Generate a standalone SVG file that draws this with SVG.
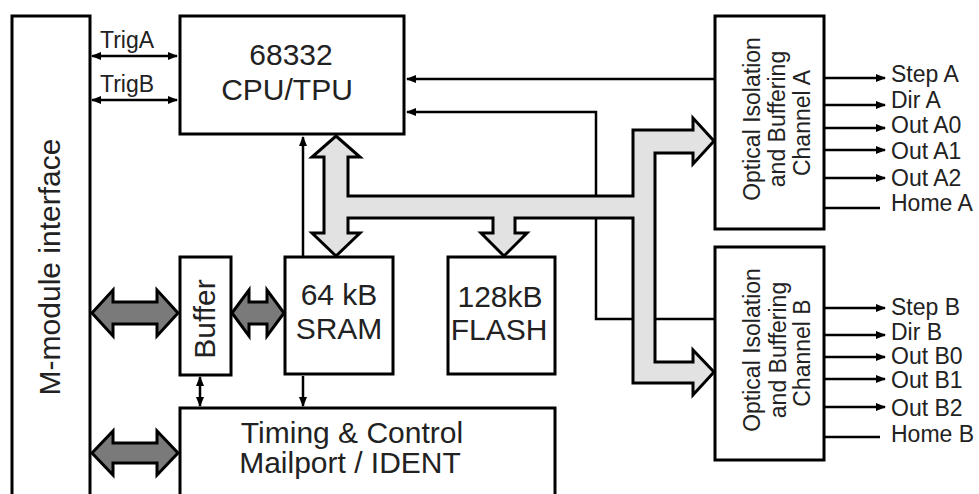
<svg xmlns="http://www.w3.org/2000/svg" width="979" height="494" viewBox="0 0 979 494">
<style>
  .box { fill: #ffffff; stroke: #000000; stroke-width: 3; }
  .lbl { font-family: "Liberation Sans", Arial, sans-serif; fill: #222222; }
  .big { font-size: 30px; }
  .mid { font-size: 23px; }
  .sig { font-size: 23px; }
  .ln { fill: none; stroke: #000000; stroke-width: 2.5; }
  .bus { fill: #e2e2e2; stroke: #000000; stroke-width: 3; stroke-linejoin: miter; }
  .dbus { fill: #7a7a7a; stroke: #000000; stroke-width: 3; stroke-linejoin: miter; }
</style>
<defs>
  <marker id="ah" markerUnits="userSpaceOnUse" markerWidth="10" markerHeight="10" viewBox="0 0 10 10" refX="9" refY="5" orient="auto-start-reverse">
    <path d="M0,1 L10,5 L0,9 Z" fill="#000000"/>
  </marker>
</defs>
<rect x="0" y="0" width="979" height="494" fill="#ffffff"/>

<g id="connectors">
  <line class="ln" x1="92" y1="56" x2="177" y2="56" marker-start="url(#ah)" marker-end="url(#ah)"/>
  <line class="ln" x1="92" y1="100" x2="177" y2="100" marker-start="url(#ah)" marker-end="url(#ah)"/>
  <line class="ln" x1="714" y1="79" x2="407" y2="79" marker-end="url(#ah)"/>
  <polyline class="ln" points="714,319 596,319 596,112 407,112" marker-end="url(#ah)"/>
  <line class="ln" x1="303" y1="256" x2="303" y2="137" marker-end="url(#ah)"/>
  <line class="ln" x1="303" y1="376" x2="303" y2="406" marker-end="url(#ah)"/>
  <line class="ln" x1="200" y1="377" x2="200" y2="406" marker-start="url(#ah)" marker-end="url(#ah)"/>
  <line class="ln" x1="825" y1="78" x2="885" y2="78" marker-end="url(#ah)"/>
  <line class="ln" x1="825" y1="105" x2="885" y2="105" marker-end="url(#ah)"/>
  <line class="ln" x1="825" y1="128" x2="885" y2="128" marker-end="url(#ah)"/>
  <line class="ln" x1="825" y1="150" x2="885" y2="150" marker-end="url(#ah)"/>
  <line class="ln" x1="825" y1="178" x2="885" y2="178" marker-end="url(#ah)"/>
  <line class="ln" x1="825" y1="208" x2="880" y2="208"/>
  <line class="ln" x1="825" y1="308" x2="885" y2="308" marker-end="url(#ah)"/>
  <line class="ln" x1="825" y1="335" x2="885" y2="335" marker-end="url(#ah)"/>
  <line class="ln" x1="825" y1="357" x2="885" y2="357" marker-end="url(#ah)"/>
  <line class="ln" x1="825" y1="379" x2="885" y2="379" marker-end="url(#ah)"/>
  <line class="ln" x1="825" y1="407" x2="885" y2="407" marker-end="url(#ah)"/>
  <line class="ln" x1="825" y1="437" x2="880" y2="437"/>
  <path class="bus" d="M336,136 L360,157 L348,157 L348,196 L633,196 L633,130 L693,130 L693,118 L714,141 L693,164 L693,153 L655,153 L655,362 L693,362 L693,350 L714,372 L693,395 L693,383 L633,383 L633,218 L515,218 L515,233 L527,233 L504,256 L481,233 L493,233 L493,218 L348,218 L348,233 L360,233 L336,256 L312,233 L324,233 L324,157 L312,157 Z"/>
  <path class="dbus" d="M92,313 L113,290 L113,302 L157,302 L157,290 L178,313 L157,336 L157,324 L113,324 L113,336 Z"/>
  <path class="dbus" d="M232,313 L249,290 L249,302 L267,302 L267,290 L284,313 L267,336 L267,324 L249,324 L249,336 Z"/>
  <path class="dbus" d="M92,453 L113,431 L113,443 L157,443 L157,431 L178,453 L157,475 L157,463 L113,463 L113,475 Z"/>
</g>

<g id="mmodule">
  <rect class="box" x="12" y="16" width="78" height="500"/>
  <text class="lbl big" transform="translate(60,267) rotate(-90)" text-anchor="middle">M-module interface</text>
</g>
<g id="trig-labels">
  <text class="lbl sig" x="100" y="48">TrigA</text>
  <text class="lbl sig" x="100" y="92">TrigB</text>
</g>
<g id="cpu">
  <rect class="box" x="180" y="16" width="224" height="118"/>
  <text class="lbl big" x="291" y="65" text-anchor="middle">68332</text>
  <text class="lbl big" x="287" y="100" text-anchor="middle">CPU/TPU</text>
</g>
<g id="buffer">
  <rect class="box" x="180" y="257" width="51" height="118"/>
  <text class="lbl big" transform="translate(215,319) rotate(-90)" text-anchor="middle">Buffer</text>
</g>
<g id="sram">
  <rect class="box" x="285" y="257" width="108" height="117"/>
  <text class="lbl big" x="339" y="305" text-anchor="middle">64 kB</text>
  <text class="lbl big" x="339" y="339" text-anchor="middle">SRAM</text>
</g>
<g id="flash">
  <rect class="box" x="448" y="257" width="107" height="117"/>
  <text class="lbl big" x="500" y="307" text-anchor="middle">128kB</text>
  <text class="lbl big" x="499" y="340" text-anchor="middle">FLASH</text>
</g>
<g id="timing">
  <rect class="box" x="180" y="408" width="375" height="110"/>
  <text class="lbl big" x="352" y="443" text-anchor="middle">Timing &amp; Control</text>
  <text class="lbl big" x="350" y="473" text-anchor="middle">Mailport / IDENT</text>
</g>
<g id="channelA">
  <rect class="box" x="715" y="16" width="109" height="213"/>
  <text class="lbl mid" transform="translate(760,119) rotate(-90)" text-anchor="middle">Optical Isolation</text>
  <text class="lbl mid" transform="translate(785,119) rotate(-90)" text-anchor="middle">and Buffering</text>
  <text class="lbl mid" transform="translate(810,123) rotate(-90)" text-anchor="middle">Channel A</text>
  <text class="lbl sig" x="891" y="82">Step A</text>
  <text class="lbl sig" x="891" y="108">Dir A</text>
  <text class="lbl sig" x="891" y="133">Out A0</text>
  <text class="lbl sig" x="891" y="159">Out A1</text>
  <text class="lbl sig" x="891" y="186">Out A2</text>
  <text class="lbl sig" x="891" y="211">Home A</text>
</g>
<g id="channelB">
  <rect class="box" x="715" y="247" width="109" height="213"/>
  <text class="lbl mid" transform="translate(760,350) rotate(-90)" text-anchor="middle">Optical Isolation</text>
  <text class="lbl mid" transform="translate(786,350) rotate(-90)" text-anchor="middle">and Buffering</text>
  <text class="lbl mid" transform="translate(810,353) rotate(-90)" text-anchor="middle">Channel B</text>
  <text class="lbl sig" x="891" y="315">Step B</text>
  <text class="lbl sig" x="891" y="340">Dir B</text>
  <text class="lbl sig" x="891" y="364">Out B0</text>
  <text class="lbl sig" x="891" y="388">Out B1</text>
  <text class="lbl sig" x="891" y="416">Out B2</text>
  <text class="lbl sig" x="891" y="442">Home B</text>
</g>
</svg>
